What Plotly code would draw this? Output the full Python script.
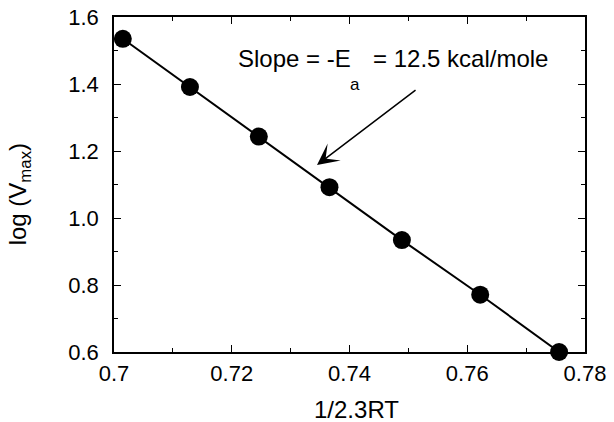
import plotly.graph_objects as go

x_vals = [0.7015, 0.7129, 0.7246, 0.7366, 0.7489, 0.7622, 0.7756]
y_vals = [1.535, 1.391, 1.243, 1.092, 0.934, 0.771, 0.600]
x_ticks = [0.7, 0.72, 0.74, 0.76, 0.78]
x_tick_labels = ["0.7", "0.72", "0.74", "0.76", "0.78"]
y_ticks = [0.6, 0.8, 1.0, 1.2, 1.4, 1.6]
y_tick_labels = ["0.6", "0.8", "1.0", "1.2", "1.4", "1.6"]
slope_left = "Slope = -E"
slope_sub = "a"
slope_right = "= 12.5 kcal/mole"
x_title = "1/2.3RT"
y_title = "log (V<sub>max</sub>)"

FONT = "Liberation Sans, Arial, Helvetica, sans-serif"
TICK_SIZE = 22
TITLE_SIZE = 24

fig = go.Figure()
fig.add_trace(go.Scatter(
    x=x_vals, y=y_vals, mode="lines+markers",
    line=dict(color="black", width=2),
    marker=dict(color="black", size=18),
    showlegend=False, cliponaxis=False, hoverinfo="skip",
))

axis_common = dict(
    showline=True, linecolor="black", linewidth=1.5, mirror="ticks",
    ticks="inside", ticklen=7, tickwidth=1, tickcolor="black",
    showgrid=False, zeroline=False, automargin=False,
    tickfont=dict(family=FONT, size=TICK_SIZE, color="black"),
)

fig.update_xaxes(
    range=[0.7, 0.78], tickvals=x_ticks, ticktext=x_tick_labels,
    minor=dict(ticks="inside", ticklen=4, tickcolor="black", dtick=0.01, tick0=0.7),
    ticklabelstandoff=1,
    **axis_common,
)
fig.update_yaxes(
    range=[0.6, 1.6], tickvals=y_ticks, ticktext=y_tick_labels,
    minor=dict(ticks="inside", ticklen=4, tickcolor="black", dtick=0.1, tick0=0.6),
    ticklabelstandoff=9,
    **axis_common,
)

# axis titles
fig.add_annotation(
    x=0.515, y=-0.172, xref="paper", yref="paper", text=x_title, showarrow=False,
    font=dict(family=FONT, size=TITLE_SIZE, color="black"),
    xanchor="center", yanchor="middle",
)
fig.add_annotation(
    x=-0.2, y=0.47, xref="paper", yref="paper", text=y_title, showarrow=False,
    textangle=-90, font=dict(family=FONT, size=TITLE_SIZE, color="black"),
    xanchor="center", yanchor="middle",
)

# arrow
fig.add_annotation(
    x=0.73448, y=1.158, ax=0.75147, ay=1.385,
    xref="x", yref="y", axref="x", ayref="y",
    text="", showarrow=True, arrowhead=3, arrowsize=2.4, arrowwidth=1.5,
    arrowcolor="black",
)
# slope label
fig.add_annotation(
    x=0.72072, y=1.4776, xref="x", yref="y", text=slope_left, showarrow=False,
    font=dict(family=FONT, size=24, color="black"), xanchor="left", yanchor="middle",
)
fig.add_annotation(
    x=0.74093, y=1.40, xref="x", yref="y", text=slope_sub, showarrow=False,
    font=dict(family=FONT, size=17, color="black"), xanchor="center", yanchor="middle",
)
fig.add_annotation(
    x=0.77406, y=1.4776, xref="x", yref="y", text=slope_right, showarrow=False,
    font=dict(family=FONT, size=24, color="black"), xanchor="right", yanchor="middle",
)

fig.update_layout(
    width=614, height=422,
    margin=dict(l=114, r=29, t=17, b=70),
    paper_bgcolor="white", plot_bgcolor="white",
)

fig.write_html("out.html", config={"displayModeBar": False},
               post_script="document.body.style.margin='0';")
